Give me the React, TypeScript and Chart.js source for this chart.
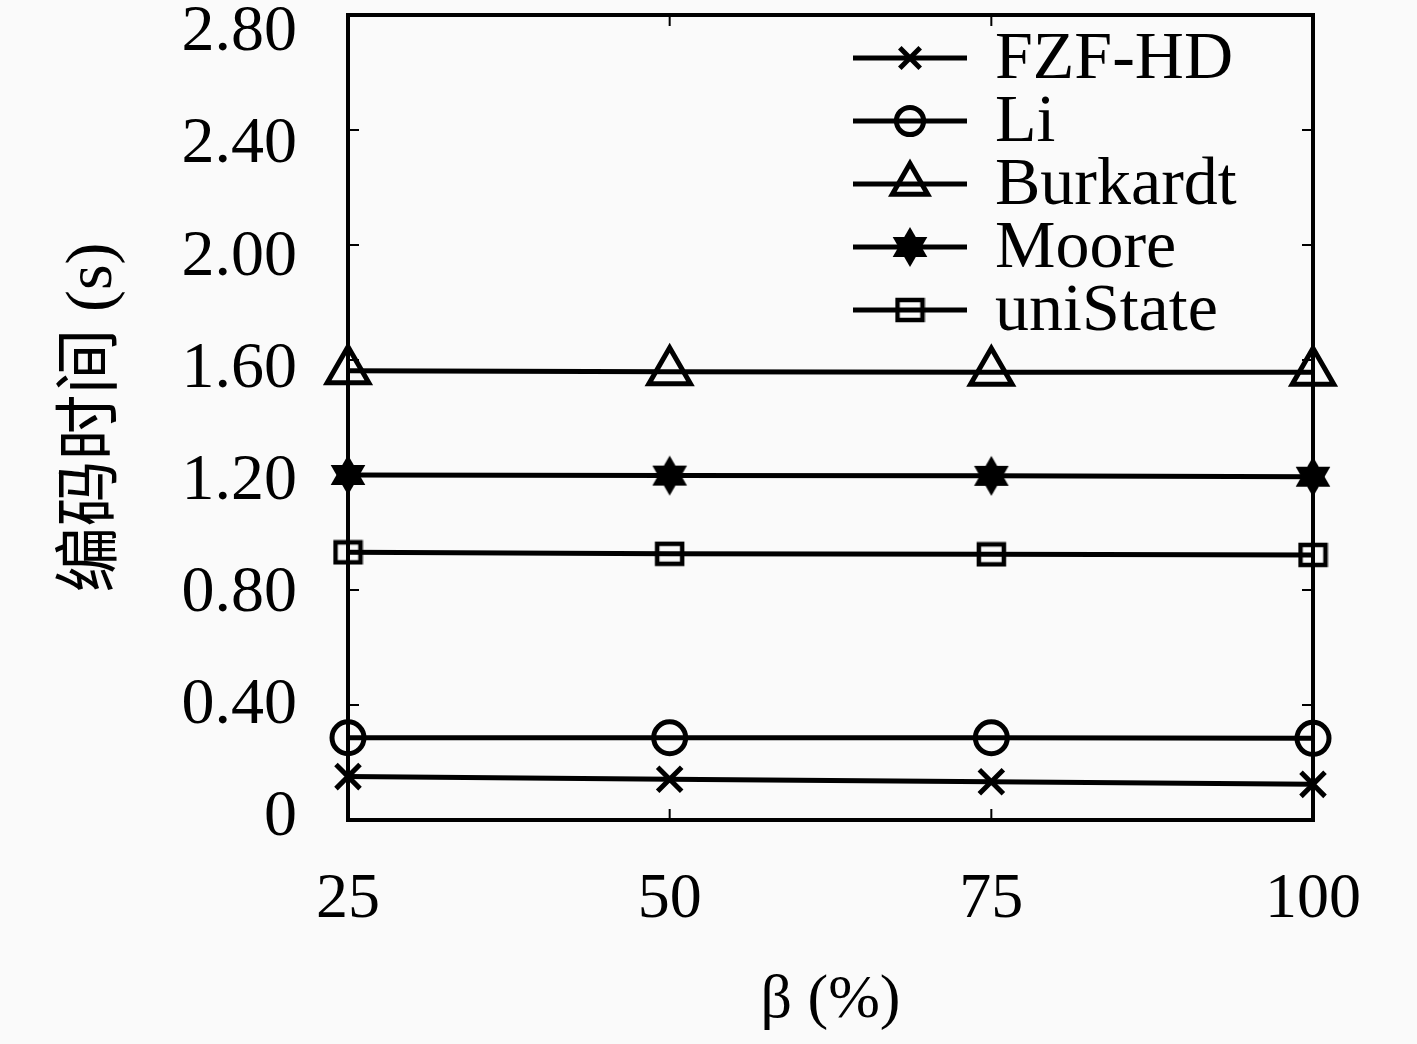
import React, { useEffect, useRef } from 'react';
import { Chart, registerables } from 'chart.js';
import { drawPoint } from 'chart.js/helpers';

Chart.register(...registerables);

const betaValues = [25, 50, 75, 100];
const seriesNames = ['FZF-HD', 'Li', 'Burkardt', 'Moore', 'uniState'];
const fzfHd = [0.151, 0.142, 0.133, 0.124];
const li = [0.286, 0.286, 0.286, 0.284];
const burkardt = [1.563, 1.559, 1.557, 1.557];
const moore = [1.2, 1.198, 1.197, 1.194];
const uniState = [0.931, 0.926, 0.924, 0.922];
const yTicks = [0, 0.4, 0.8, 1.2, 1.6, 2.0, 2.4, 2.8];
const xTicks = [25, 50, 75, 100];

const SERIF = '"Liberation Serif", "Times New Roman", serif';
const CJK = '"Liberation Serif", "Noto Sans CJK SC", serif';

function makeHexagram(size: number) {
  const c = document.createElement('canvas');
  c.width = size;
  c.height = size;
  const ctx = c.getContext('2d')!;
  const cx = size / 2, cy = size / 2, r = size / 2 - 1;
  ctx.fillStyle = '#000';
  for (const off of [0, Math.PI]) {
    ctx.beginPath();
    for (let k = 0; k < 3; k++) {
      const a = off + (k * 2 * Math.PI) / 3;
      ctx.lineTo(cx + r * Math.sin(a), cy - r * Math.cos(a));
    }
    ctx.closePath();
    ctx.fill();
  }
  return c;
}

function makeRect() {
  const c = document.createElement('canvas');
  c.width = 31;
  c.height = 26;
  const ctx = c.getContext('2d')!;
  ctx.strokeStyle = '#000';
  ctx.lineWidth = 4.5;
  ctx.strokeRect(3, 3, 25, 20);
  return c;
}

const fmtY = (v: number) => (v === 0 ? '0' : v.toFixed(2));

export default function App() {
  const ref = useRef<HTMLCanvasElement>(null);

  useEffect(() => {
    const canvas = ref.current!;
    const hex = makeHexagram(42);
    const rectImg = makeRect();
    const seriesValues = [fzfHd, li, burkardt, moore, uniState];
    const styles: any[] = [
      { pointStyle: 'crossRot', pointRadius: 17 },
      { pointStyle: 'circle', pointRadius: 16 },
      { pointStyle: 'triangle', pointRadius: 24 },
      { pointStyle: hex, pointRadius: 20 },
      { pointStyle: rectImg, pointRadius: 14 },
    ];

    const datasets = seriesNames.map((name, i) => ({
      label: name,
      data: betaValues.map((x, j) => ({ x, y: seriesValues[i][j] })),
      borderColor: '#000',
      borderWidth: 5,
      pointBorderColor: '#000',
      pointBackgroundColor: 'rgba(0,0,0,0)',
      pointBorderWidth: 5,
      pointStyle: styles[i].pointStyle,
      pointRadius: styles[i].pointRadius,
      tension: 0,
      fill: false,
      clip: false as any,
    }));

    const bgPlugin = {
      id: 'bg',
      beforeDraw(chart: any) {
        const ctx = chart.ctx;
        ctx.save();
        ctx.fillStyle = '#fafafa';
        ctx.fillRect(0, 0, chart.width, chart.height);
        ctx.restore();
      },
    };

    const framePlugin = {
      id: 'frame',
      beforeDatasetsDraw(chart: any) {
        const ctx = chart.ctx;
        const { left, right, top, bottom } = chart.chartArea;
        ctx.save();
        ctx.strokeStyle = '#000';
        ctx.lineWidth = 2;
        const ys = chart.scales.y;
        yTicks.forEach((v) => {
          const p = ys.getPixelForValue(v);
          if (Math.abs(p - top) < 3 || Math.abs(p - bottom) < 3) return;
          ctx.beginPath();
          ctx.moveTo(left, p);
          ctx.lineTo(left + 11, p);
          ctx.moveTo(right, p);
          ctx.lineTo(right - 11, p);
          ctx.stroke();
        });
        const xs = chart.scales.x;
        xTicks.forEach((v) => {
          const p = xs.getPixelForValue(v);
          if (Math.abs(p - left) < 3 || Math.abs(p - right) < 3) return;
          ctx.beginPath();
          ctx.moveTo(p, bottom);
          ctx.lineTo(p, bottom - 11);
          ctx.moveTo(p, top);
          ctx.lineTo(p, top + 11);
          ctx.stroke();
        });
        ctx.lineWidth = 4;
        ctx.strokeRect(left, top, right - left, bottom - top);
        ctx.restore();
      },
    };

    const yLabelPlugin = {
      id: 'yLabels',
      afterDraw(chart: any) {
        const ctx = chart.ctx;
        const { left, top, bottom } = chart.chartArea;
        const ys = chart.scales.y;
        ctx.save();
        ctx.fillStyle = '#000';
        ctx.font = `66px ${SERIF}`;
        ctx.textAlign = 'right';
        ctx.textBaseline = 'middle';
        yTicks.forEach((v) => {
          const p = ys.getPixelForValue(v);
          const ly = p + 15 - (20 * (p - top)) / (bottom - top);
          ctx.fillText(fmtY(v), left - 51, ly + 3);
        });
        ctx.restore();
      },
    };

    const legendPlugin = {
      id: 'lineLegend',
      afterDraw(chart: any) {
        const ctx = chart.ctx;
        const { right, top } = chart.chartArea;
        chart.data.datasets.forEach((ds: any, i: number) => {
          const y = top + 43 + i * 63;
          const x1 = right - 460;
          const x2 = right - 346;
          const xm = (x1 + x2) / 2;
          ctx.save();
          ctx.strokeStyle = '#000';
          ctx.lineWidth = 5;
          ctx.beginPath();
          ctx.moveTo(x1, y);
          ctx.lineTo(x2, y);
          ctx.stroke();
          ctx.fillStyle = ds.pointBackgroundColor;
          ctx.lineWidth = ds.pointBorderWidth;
          drawPoint(
            ctx,
            {
              pointStyle: ds.pointStyle,
              radius: ds.pointRadius * 0.85,
              borderWidth: ds.pointBorderWidth,
              rotation: 0,
            } as any,
            xm,
            y
          );
          ctx.fillStyle = '#000';
          ctx.font = `68px ${SERIF}`;
          ctx.textBaseline = 'middle';
          ctx.textAlign = 'left';
          ctx.fillText(ds.label, right - 318, y + 2);
          ctx.restore();
        });
      },
    };

    const chart = new Chart(canvas, {
      type: 'line',
      data: { datasets: datasets as any },
      options: {
        animation: false,
        responsive: false,
        devicePixelRatio: 1,
        layout: { autoPadding: false, padding: { top: 15, right: 104, left: 0, bottom: 0 } },
        plugins: { legend: { display: false }, tooltip: { enabled: false } },
        scales: {
          x: {
            type: 'linear',
            min: 25,
            max: 100,
            afterBuildTicks: (s: any) => {
              s.ticks = xTicks.map((v) => ({ value: v }));
            },
            afterFit: (s: any) => {
              s.height = 224;
            },
            grid: { display: false, drawTicks: false },
            border: { display: false },
            ticks: {
              font: { family: SERIF, size: 64 },
              color: '#000',
              padding: 42,
              maxRotation: 0,
              autoSkip: false,
              callback: (v: any) => String(v),
            },
            title: {
              display: true,
              text: 'β (%)',
              font: { family: SERIF, size: 62 },
              color: '#000',
              padding: 6,
            },
          },
          y: {
            type: 'linear',
            min: 0,
            max: 2.8,
            afterBuildTicks: (s: any) => {
              s.ticks = yTicks.map((v) => ({ value: v }));
            },
            afterFit: (s: any) => {
              s.width = 348;
            },
            grid: { display: false, drawTicks: false },
            border: { display: false },
            ticks: { display: false },
            title: {
              display: true,
              text: '编码时间 (s)',
              font: { family: CJK, size: 66 },
              color: '#000',
              padding: 54,
            },
          },
        },
      },
      plugins: [bgPlugin, framePlugin, yLabelPlugin, legendPlugin],
    });

    return () => chart.destroy();
  }, []);

  return (
    <div style={{ position: 'absolute', left: 0, top: 0, width: 1417, height: 1044 }}>
      <canvas ref={ref} width={1417} height={1044} style={{ display: 'block' }} />
    </div>
  );
}
